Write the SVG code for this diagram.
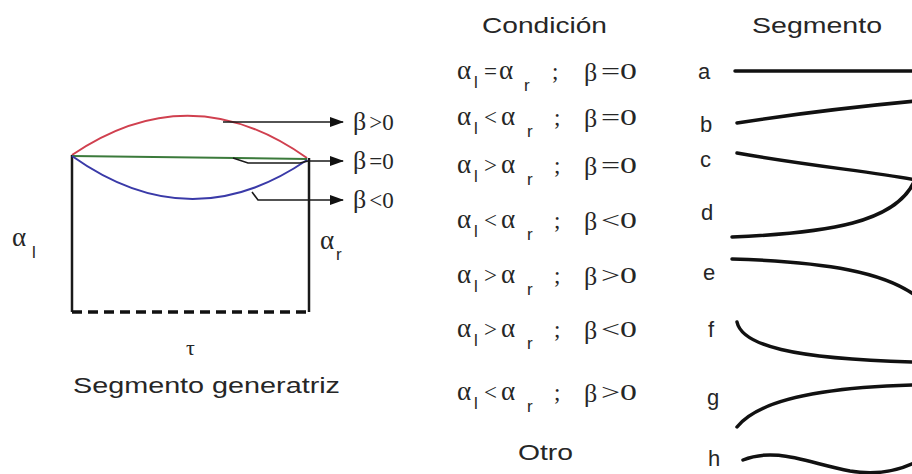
<svg xmlns="http://www.w3.org/2000/svg" width="912" height="474" viewBox="0 0 912 474">
<defs>
<style>
.sans{font-family:"Liberation Sans",Arial,sans-serif;fill:#262626}
.serif{font-family:"Liberation Serif","Times New Roman",serif;fill:#262626}
.frame{stroke:#1a1a1a;stroke-width:2.5;fill:none}
.conn{stroke:#1a1a1a;stroke-width:1.6;fill:none}
.seg{stroke:#111;stroke-width:3.5;fill:none;stroke-linecap:round}
.sym{font-size:27px}
.beta{font-size:26px}
.sub{font-size:17px}
.rel{font-size:23px}
.lab{font-size:22px}
</style>
<marker id="arr" markerWidth="14" markerHeight="10" refX="13" refY="5" orient="auto" markerUnits="userSpaceOnUse">
<path d="M0,0 L14,5 L0,10 Z" fill="#111"/>
</marker>
</defs>
<rect width="912" height="474" fill="#fff"/>

<g id="generatriz">
<line class="frame" x1="72" y1="155" x2="72" y2="312"/>
<line class="frame" x1="309" y1="158" x2="309" y2="312"/>
<line x1="72" y1="312" x2="309" y2="312" stroke="#111" stroke-width="3.5" stroke-dasharray="10 6"/>
<path d="M72,155 Q190,75 307,158" stroke="#d0404f" stroke-width="2" fill="none"/>
<path d="M72,156 L307,159" stroke="#3b7a3b" stroke-width="2" fill="none"/>
<path d="M72,156 Q190,240 307,160" stroke="#3a3aa8" stroke-width="2" fill="none"/>
<text class="serif" x="12" y="246" font-size="27">α</text>
<text class="sans" x="32" y="258" font-size="17">l</text>
<text class="serif" x="320" y="249" font-size="27">α</text>
<text class="sans" x="336" y="260" font-size="17">r</text>
<text class="serif" x="186" y="355" font-size="22">τ</text>
<text class="sans" x="73" y="393" font-size="22" textLength="267" lengthAdjust="spacingAndGlyphs">Segmento generatriz</text>
</g>

<g id="connectors">
<path class="conn" d="M223,122 L343,122" marker-end="url(#arr)"/>
<path class="conn" d="M233,158 L248,163 L300,163 L308,161 L343,161" marker-end="url(#arr)"/>
<path class="conn" d="M252,192 L258,200 L343,200" marker-end="url(#arr)"/>
</g>

<g id="beta-labels">
<text x="353" y="130"><tspan class="serif beta">β</tspan><tspan class="serif rel" dx="3">&gt;0</tspan></text>
<text x="353" y="169"><tspan class="serif beta">β</tspan><tspan class="serif rel" dx="3">=0</tspan></text>
<text x="353" y="208"><tspan class="serif beta">β</tspan><tspan class="serif rel" dx="3">&lt;0</tspan></text>
</g>

<g id="headers">
<text class="sans" x="482" y="33" font-size="22" textLength="125" lengthAdjust="spacingAndGlyphs">Condición</text>
<text class="sans" x="752" y="33" font-size="22" textLength="130" lengthAdjust="spacingAndGlyphs">Segmento</text>
</g>

<g id="conditions">
<g id="cond-a" transform="translate(0,79)">
<text class="serif sym" x="457" y="0">α</text><text class="sans sub" x="474" y="9">l</text>
<text class="serif rel" x="484" y="0">=</text>
<text class="serif sym" x="499" y="0">α</text><text class="sans sub" x="524" y="12">r</text>
<text class="serif rel" x="552" y="0">;</text>
<text class="serif beta" x="584" y="2">β</text><text class="serif rel" x="601" y="0" textLength="36" lengthAdjust="spacingAndGlyphs">=0</text>
</g>
<g id="cond-b" transform="translate(0,125)">
<text class="serif sym" x="457" y="0">α</text><text class="sans sub" x="474" y="9">l</text>
<text class="serif rel" x="484" y="0">&lt;</text>
<text class="serif sym" x="501" y="0">α</text><text class="sans sub" x="527" y="12">r</text>
<text class="serif rel" x="554" y="0">;</text>
<text class="serif beta" x="584" y="2">β</text><text class="serif rel" x="601" y="0" textLength="36" lengthAdjust="spacingAndGlyphs">=0</text>
</g>
<g id="cond-c" transform="translate(0,173)">
<text class="serif sym" x="457" y="0">α</text><text class="sans sub" x="474" y="9">l</text>
<text class="serif rel" x="484" y="0">&gt;</text>
<text class="serif sym" x="501" y="0">α</text><text class="sans sub" x="527" y="12">r</text>
<text class="serif rel" x="554" y="0">;</text>
<text class="serif beta" x="584" y="2">β</text><text class="serif rel" x="601" y="0" textLength="36" lengthAdjust="spacingAndGlyphs">=0</text>
</g>
<g id="cond-d" transform="translate(0,228)">
<text class="serif sym" x="457" y="0">α</text><text class="sans sub" x="474" y="9">l</text>
<text class="serif rel" x="484" y="0">&lt;</text>
<text class="serif sym" x="501" y="0">α</text><text class="sans sub" x="527" y="12">r</text>
<text class="serif rel" x="554" y="0">;</text>
<text class="serif beta" x="584" y="2">β</text><text class="serif rel" x="601" y="0" textLength="36" lengthAdjust="spacingAndGlyphs">&lt;0</text>
</g>
<g id="cond-e" transform="translate(0,283)">
<text class="serif sym" x="457" y="0">α</text><text class="sans sub" x="474" y="9">l</text>
<text class="serif rel" x="484" y="0">&gt;</text>
<text class="serif sym" x="501" y="0">α</text><text class="sans sub" x="527" y="12">r</text>
<text class="serif rel" x="554" y="0">;</text>
<text class="serif beta" x="584" y="2">β</text><text class="serif rel" x="601" y="0" textLength="36" lengthAdjust="spacingAndGlyphs">&gt;0</text>
</g>
<g id="cond-f" transform="translate(0,337)">
<text class="serif sym" x="457" y="0">α</text><text class="sans sub" x="474" y="9">l</text>
<text class="serif rel" x="484" y="0">&gt;</text>
<text class="serif sym" x="501" y="0">α</text><text class="sans sub" x="527" y="12">r</text>
<text class="serif rel" x="554" y="0">;</text>
<text class="serif beta" x="584" y="2">β</text><text class="serif rel" x="601" y="0" textLength="36" lengthAdjust="spacingAndGlyphs">&lt;0</text>
</g>
<g id="cond-g" transform="translate(0,400)">
<text class="serif sym" x="457" y="0">α</text><text class="sans sub" x="474" y="9">l</text>
<text class="serif rel" x="484" y="0">&lt;</text>
<text class="serif sym" x="501" y="0">α</text><text class="sans sub" x="527" y="12">r</text>
<text class="serif rel" x="554" y="0">;</text>
<text class="serif beta" x="584" y="2">β</text><text class="serif rel" x="601" y="0" textLength="36" lengthAdjust="spacingAndGlyphs">&gt;0</text>
</g>
<text id="cond-h" class="sans" x="518" y="460" font-size="22" textLength="55" lengthAdjust="spacingAndGlyphs">Otro</text>
</g>

<g id="segments">
<g id="seg-a"><text class="sans lab" x="698" y="79">a</text><path class="seg" d="M735,71 L916,71"/></g>
<g id="seg-b"><text class="sans lab" x="700" y="132">b</text><path class="seg" d="M737,123 Q820,110 916,101"/></g>
<g id="seg-c"><text class="sans lab" x="700" y="167">c</text><path class="seg" d="M737,153 C810,166 875,172 916,180"/></g>
<g id="seg-d"><text class="sans lab" x="701" y="220">d</text><path class="seg" d="M732,237 C830,233 895,222 914,182"/></g>
<g id="seg-e"><text class="sans lab" x="703" y="280">e</text><path class="seg" d="M732,259 C830,262 885,273 916,296"/></g>
<g id="seg-f"><text class="sans lab" x="708" y="337">f</text><path class="seg" d="M737,322 C742,345 790,359 916,362"/></g>
<g id="seg-g"><text class="sans lab" x="707" y="405">g</text><path class="seg" d="M737,427 C760,398 830,387 916,385"/></g>
<g id="seg-h"><text class="sans lab" x="708" y="466">h</text><path class="seg" d="M743,460 C775,447 805,462 850,471 C880,476 900,470 916,462"/></g>
</g>
</svg>
